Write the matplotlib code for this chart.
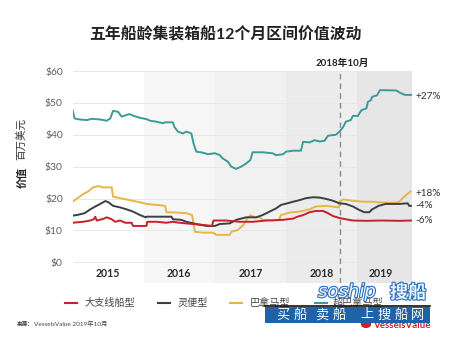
import matplotlib
matplotlib.use("Agg")
import matplotlib.pyplot as plt
import matplotlib.patheffects as pe
from matplotlib.lines import Line2D
from matplotlib.patches import Rectangle, Circle

plt.rcParams['font.family'] = ['Lato', 'Noto Sans CJK SC', 'DejaVu Sans']

# values in $m, x in decimal years
post_panamax_x = [2015.00, 2015.03, 2015.10, 2015.20, 2015.27, 2015.39, 2015.48, 2015.53, 2015.57, 2015.64,
                  2015.69, 2015.76, 2015.80, 2015.85, 2015.95, 2016.04, 2016.09, 2016.18, 2016.27, 2016.30,
                  2016.41, 2016.43, 2016.48, 2016.55, 2016.60, 2016.67, 2016.70, 2016.74, 2016.83, 2016.90,
                  2017.00, 2017.07, 2017.11, 2017.18, 2017.23, 2017.30, 2017.37, 2017.44, 2017.50, 2017.53,
                  2017.67, 2017.81, 2017.86, 2017.96, 2018.00, 2018.10, 2018.21, 2018.24, 2018.33, 2018.40,
                  2018.47, 2018.54, 2018.59, 2018.70, 2018.75, 2018.80, 2018.84, 2018.91, 2018.94, 2019.01,
                  2019.03, 2019.06, 2019.13, 2019.15, 2019.19, 2019.21, 2019.28, 2019.32, 2019.55, 2019.60,
                  2019.67, 2019.76]
post_panamax_y = [47.8, 45.1, 44.8, 44.6, 45.0, 44.8, 44.4, 45.1, 47.5, 47.2,
                  45.7, 46.2, 46.5, 46.0, 45.3, 44.9, 44.4, 44.1, 43.6, 43.9,
                  43.9, 42.5, 41.0, 40.4, 41.0, 40.4, 37.3, 34.7, 34.4, 33.9,
                  34.2, 33.6, 32.6, 31.6, 30.0, 29.3, 30.0, 31.0, 32.1, 34.5,
                  34.5, 34.2, 33.6, 33.9, 34.7, 35.0, 35.0, 37.8, 37.6, 38.3,
                  37.9, 38.1, 39.7, 40.0, 41.0, 42.3, 44.1, 44.6, 45.9, 45.9,
                  46.7, 47.7, 48.3, 50.3, 50.8, 51.9, 52.4, 54.0, 53.9, 53.2,
                  52.5, 52.5]

panamax_x = [2015.00, 2015.10, 2015.15, 2015.22, 2015.29, 2015.36, 2015.43, 2015.55, 2015.57, 2015.67,
             2015.80, 2015.95, 2016.04, 2016.18, 2016.30, 2016.32, 2016.46, 2016.60, 2016.68, 2016.72,
             2016.83, 2016.97, 2017.02, 2017.21, 2017.23, 2017.32, 2017.40, 2017.46, 2017.50, 2017.56,
             2017.63, 2017.67, 2017.81, 2017.90, 2017.93, 2018.05, 2018.19, 2018.33, 2018.42, 2018.57,
             2018.74, 2018.76, 2018.80, 2018.94, 2019.07, 2019.21, 2019.30, 2019.40, 2019.54, 2019.59,
             2019.66, 2019.75]
panamax_y = [19.0, 20.6, 21.4, 22.2, 23.5, 23.9, 23.5, 23.5, 20.6, 20.1,
             19.5, 18.8, 18.3, 18.0, 17.7, 15.7, 15.6, 15.4, 14.8, 9.6,
             9.3, 9.3, 8.6, 8.6, 9.6, 10.1, 11.7, 13.8, 14.8, 14.1,
             14.1, 13.3, 13.1, 13.3, 14.8, 15.6, 15.9, 16.6, 17.5, 17.7,
             17.2, 19.2, 19.7, 19.3, 19.0, 19.0, 18.8, 18.7, 18.7, 19.0,
             20.6, 22.2]

handysize_x = [2015.00, 2015.10, 2015.17, 2015.25, 2015.32, 2015.39, 2015.46, 2015.50, 2015.57, 2015.67,
               2015.76, 2015.85, 2015.95, 2016.03, 2016.04, 2016.13, 2016.39, 2016.41, 2016.53, 2016.60,
               2016.74, 2016.88, 2017.00, 2017.07, 2017.21, 2017.30, 2017.44, 2017.58, 2017.67, 2017.77,
               2017.86, 2017.93, 2018.02, 2018.10, 2018.19, 2018.28, 2018.38, 2018.47, 2018.56, 2018.66,
               2018.75, 2018.84, 2018.94, 2019.03, 2019.10, 2019.17, 2019.21, 2019.30, 2019.40, 2019.59,
               2019.71, 2019.73, 2019.76]
handysize_y = [14.6, 15.0, 15.4, 16.6, 17.5, 18.3, 19.2, 18.9, 17.7, 17.2,
               16.6, 15.9, 14.8, 14.1, 14.3, 14.3, 14.3, 13.5, 13.3, 12.7,
               12.0, 11.4, 11.4, 12.0, 12.2, 13.3, 14.1, 14.1, 14.8, 15.9,
               16.9, 18.0, 18.5, 19.0, 19.5, 20.1, 20.4, 20.3, 19.9, 19.3,
               18.5, 18.3, 17.5, 16.4, 15.7, 15.7, 16.6, 17.7, 18.3, 18.3,
               18.5, 17.7, 17.7]

feeder_x = [2015.00, 2015.15, 2015.25, 2015.30, 2015.32, 2015.34, 2015.43, 2015.48, 2015.55, 2015.60,
            2015.67, 2015.74, 2015.83, 2015.85, 2016.04, 2016.05, 2016.18, 2016.32, 2016.41, 2016.50,
            2016.60, 2016.69, 2016.79, 2016.88, 2016.96, 2016.98, 2017.16, 2017.35, 2017.53, 2017.72,
            2017.95, 2018.10, 2018.16, 2018.24, 2018.33, 2018.42, 2018.52, 2018.59, 2018.66, 2018.75,
            2018.84, 2018.94, 2019.12, 2019.35, 2019.59, 2019.76]
feeder_y = [12.4, 12.7, 13.1, 13.5, 14.3, 13.1, 13.6, 14.1, 13.5, 12.7,
            13.1, 12.4, 12.4, 11.4, 11.4, 12.7, 12.7, 12.4, 12.7, 12.4,
            12.2, 12.0, 11.8, 11.6, 11.4, 13.1, 13.1, 12.7, 12.7, 13.1,
            13.3, 13.7, 14.3, 14.8, 15.7, 16.1, 16.1, 15.4, 14.5, 13.9,
            13.5, 13.1, 13.0, 13.1, 13.0, 13.1]

end_labels = ['+27%', '+18%', '-4%', '-6%']
end_label_y = [52.1, 21.6, 17.8, 13.1]

years = ['2015', '2016', '2017', '2018', '2019']
year_label_x = [2015.5, 2016.5, 2017.5, 2018.5, 2019.33]
band_edges = [2015.0, 2016.0, 2017.0, 2018.0, 2018.76, 2019.0, 2019.77]
band_colors = ['#ffffff', '#f6f6f6', '#f1f1f1', '#ebebeb', '#efefef', '#e6e6e6']
y_ticks = [0, 10, 20, 30, 40, 50, 60]

legend_names = ['大支线船型', '灵便型', '巴拿马型', '超巴拿马型']
c_feeder = '#c8202b'
c_handy = '#3b3f45'
c_panamax = '#e6b648'
c_post = '#3b9c97'

W, H = 450, 339
fig = plt.figure(figsize=(4.5, 3.39), dpi=100)
ax = fig.add_axes([72.5 / W, 56 / H, 339.5 / W, 212 / H])
ax.set_xlim(2015.0, 2019.77)
ax.set_ylim(-6.5, 60)

for i in range(len(band_colors)):
    ax.axvspan(band_edges[i], band_edges[i + 1], color=band_colors[i], lw=0, zorder=0)

ax.hlines(y_ticks, 2015.0, 2019.77, color='#e8e8e8', lw=0.7, zorder=1)
ax.axvline(2018.76, color='#8c8c8c', lw=1, dashes=(4, 3), zorder=2)

ax.plot(panamax_x, panamax_y, color=c_panamax, lw=1.4, zorder=3)
ax.plot(handysize_x, handysize_y, color=c_handy, lw=1.4, zorder=4)
ax.plot(feeder_x, feeder_y, color=c_feeder, lw=1.4, zorder=5)
ax.plot(post_panamax_x, post_panamax_y, color=c_post, lw=1.4, zorder=6)

for lab, yv in zip(end_labels, end_label_y):
    ax.text(1.01, yv, lab, transform=ax.get_yaxis_transform(), ha='left', va='center',
            fontsize=7.2, color='#333333')

for lab, xv in zip(years, year_label_x):
    ax.text(xv, -3.4, lab, ha='center', va='center', fontsize=7.6, fontweight='bold', color='#2b2b2b')

ax.set_yticks(y_ticks)
ax.set_yticklabels(['$' + str(v) for v in y_ticks], fontsize=7.4, color='#5e5e5e')
ax.set_xticks([])
ax.tick_params(axis='y', length=0, pad=7)
for s in ax.spines.values():
    s.set_visible(False)

fig.text(0.5, 1 - 35 / H, '五年船龄集装箱船12个月区间价值波动', ha='center', va='center',
         fontsize=11.4, fontweight='bold', color='#222222')
fig.text(342 / W, 1 - 63 / H, '2018年10月', ha='center', va='center', fontsize=7,
         fontweight='bold', color='#222222')

fig.text(22 / W, 1 - 139 / H, '百万美元', rotation=90, ha='center', va='center', fontsize=7.6, color='#333333')
fig.text(22 / W, 1 - 177 / H, '价值', rotation=90, ha='center', va='center', fontsize=7.6,
         fontweight='bold', color='#222222')

# legend row
leg_y = 1 - 303 / H
leg_line_x = [65, 158, 230, 315]
leg_text_x = [85, 178, 250, 333]
for name, col, lx, tx in zip(legend_names, [c_feeder, c_handy, c_panamax, c_post], leg_line_x, leg_text_x):
    fig.add_artist(Line2D([lx / W, (lx + 12) / W], [leg_y, leg_y], transform=fig.transFigure,
                          color=col, lw=1.5))
    fig.text(tx / W, leg_y, name, ha='left', va='center', fontsize=7.3, color='#444444')

fig.text(17 / W, 1 - 324 / H, '来源：', ha='left', va='center', fontsize=4.0, fontweight='bold', color='#333333')
fig.text(34 / W, 1 - 324 / H, 'VesselsValue 2019年10月', ha='left', va='center', fontsize=4.6, color='#444444')

# VesselsValue mark
fig.add_artist(Circle((366 / W, 1 - 324 / H), 4.5 / W, transform=fig.transFigure, color='#d11f2e'))
fig.text(373 / W, 1 - 325 / H, 'VesselsValue', ha='left', va='center', fontsize=7,
         fontweight='bold', color='#d11f2e')

# site watermark
fig.add_artist(Line2D([265 / W, 430 / W], [1 - 305.5 / H, 1 - 305.5 / H], transform=fig.transFigure,
                      color='#111111', lw=1.2, zorder=10))
fig.add_artist(Rectangle((265 / W, 1 - 323 / H), 165 / W, 16.5 / H, transform=fig.transFigure,
                         color='#1f62a8', lw=0, zorder=10))
banner_chars = ['买', '船', '卖', '船', '上', '搜', '船', '网']
banner_x = [283, 300, 322, 339, 367, 384, 401, 418]
for ch, bx in zip(banner_chars, banner_x):
    fig.text(bx / W, 1 - 314.5 / H, ch, ha='center', va='center', fontsize=9.5,
             color='white', zorder=11)
outline = [pe.withStroke(linewidth=1.6, foreground='#2a6fbd')]
fig.text(318 / W, 1 - 292 / H, 'soship', ha='left', va='center', fontsize=13, style='italic',
         family='DejaVu Sans', color='#eaf3fb', zorder=11, path_effects=outline)
fig.text(390 / W, 1 - 292 / H, '搜船', ha='left', va='center', fontsize=13,
         fontweight='bold', color='#eaf3fb', zorder=11, path_effects=outline)

fig.savefig('out.png', dpi=100)
